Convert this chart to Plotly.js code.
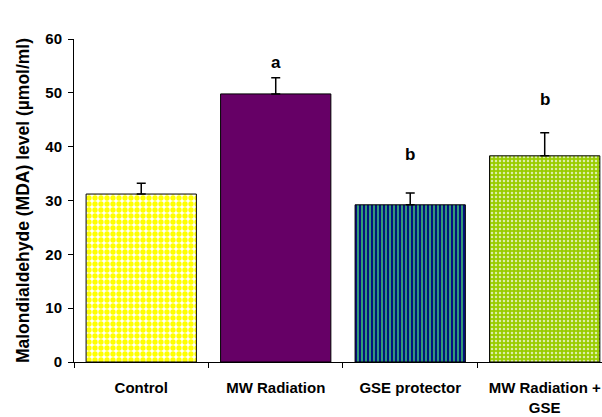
<!DOCTYPE html>
<html>
<head>
<meta charset="utf-8">
<script src="https://cdn.plot.ly/plotly-3.0.1.min.js"></script>
<style>html,body{margin:0;padding:0;background:#fff;}#chart{width:602px;height:417px;}</style>
</head>
<body>
<div id="chart"></div>
<script>
const categories = ["Control", "MW Radiation", "GSE protector", "MW Radiation +<br>GSE"];
const mdaValues = [31.2, 49.8, 29.2, 38.3];
const mdaErrors = [2.0, 3.0, 2.2, 4.3];
const sigLetters = ["", "a", "b", "b"];
const letterY = [0, 55.6, 38.5, 48.7];
const yTicks = [0, 10, 20, 30, 40, 50, 60];

const fonts = "Liberation Sans, Arial, sans-serif";

const barStyles = [
  {color: "#ffffff", pattern: {shape: ".", fgcolor: "#ffff00", bgcolor: "#ffffff", size: 6, solidity: 0.62, fillmode: "replace"}},
  {color: "#660066", pattern: {shape: ""}},
  {color: "#339966", pattern: {shape: "|", fgcolor: "#000080", bgcolor: "#339977", size: 4, solidity: 0.45, fillmode: "replace"}},
  {color: "#99cc00", pattern: {shape: ".", fgcolor: "#ddeeaa", bgcolor: "#99cc00", size: 4, solidity: 0.3, fillmode: "replace"}}
];

const traces = categories.map((c, i) => ({
  type: "bar",
  x: [c],
  y: [mdaValues[i]],
  width: 0.82,
  marker: {
    color: barStyles[i].color,
    pattern: barStyles[i].pattern,
    line: {color: "#000000", width: 1}
  },
  error_y: {
    type: "data",
    symmetric: false,
    array: [mdaErrors[i]],
    arrayminus: [0],
    color: "#000000",
    thickness: 1.5,
    width: 4.5
  },
  showlegend: false,
  hoverinfo: "skip"
}));

const annotations = sigLetters.map((t, i) => ({
  x: categories[i], y: letterY[i], xref: "x", yref: "y",
  text: t, showarrow: false,
  font: {family: fonts, size: 17, weight: "bold", color: "#000"}
})).filter(a => a.text !== "");

const layout = {
  width: 602, height: 417,
  margin: {l: 74, r: 0, t: 39, b: 55},
  paper_bgcolor: "#ffffff",
  plot_bgcolor: "#ffffff",
  font: {family: fonts, size: 15, color: "#000"},
  bargap: 0.18,
  xaxis: {
    type: "category",
    range: [-0.5, 3.426],
    showline: true, linecolor: "#000", linewidth: 1,
    ticks: "outside", tickson: "boundaries", ticklen: 5, tickcolor: "#000",
    tickfont: {family: fonts, size: 15, weight: "bold", color: "#000"},
    ticklabelstandoff: 12,
    showgrid: false, zeroline: false,
    automargin: false
  },
  yaxis: {
    range: [0, 60],
    tickvals: yTicks,
    showline: true, linecolor: "#000", linewidth: 1,
    ticks: "outside", ticklen: 5, tickcolor: "#000",
    tickfont: {family: fonts, size: 15, weight: "bold", color: "#000"},
    ticklabelstandoff: 3,
    showgrid: false, zeroline: false,
    automargin: false,
    title: {text: "Malondialdehyde (MDA) level (µmol/ml)", standoff: 11,
            font: {family: fonts, size: 17.5, weight: "bold", color: "#000"}}
  },
  annotations: annotations
};

Plotly.newPlot("chart", traces, layout, {displayModeBar: false, staticPlot: true});
</script>
</body>
</html>
